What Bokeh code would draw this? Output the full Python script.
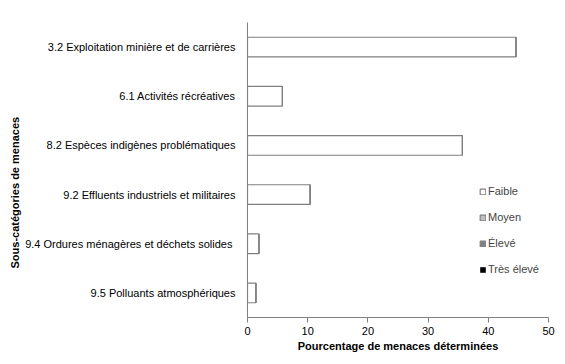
import math
from bokeh.plotting import figure
from bokeh.models import (ColumnDataSource, FactorRange, Range1d, FixedTicker,
                          Legend, LegendItem, Title)
from bokeh.embed import file_html
from bokeh.resources import INLINE

categories = [
    "3.2 Exploitation minière et de carrières",
    "6.1 Activités récréatives",
    "8.2 Espèces indigènes problématiques",
    "9.2 Effluents industriels et militaires",
    "9.4 Ordures ménagères  et déchets solides",
    "9.5 Polluants atmosphériques",
]
faible = [44.6, 5.8, 35.7, 10.4, 1.9, 1.4]
moyen = [0, 0, 0, 0, 0, 0]
eleve = [0, 0, 0, 0, 0, 0]
tres_eleve = [0, 0, 0, 0, 0, 0]
series_names = ["Faible", "Moyen", "Élevé", "Très élevé"]
x_ticks = [0, 10, 20, 30, 40, 50]
x_title = "Pourcentage de menaces déterminées"
y_title = "Sous-catégories de menaces"

FONT = "Liberation Sans"

p = figure(
    y_range=FactorRange(factors=list(reversed(categories))),
    x_range=Range1d(0, 50),
    frame_width=301, frame_height=295,
    min_border_left=247, min_border_right=17,
    min_border_top=22, min_border_bottom=47,
    output_backend="svg", toolbar_location=None,
)
p.outline_line_color = None
p.grid.grid_line_color = None
p.background_fill_color = "white"
p.border_fill_color = "white"

src = ColumnDataSource(dict(cat=categories, faible=faible, moyen=moyen,
                            eleve=eleve, tres=tres_eleve))
cols = ["faible", "moyen", "eleve", "tres"]
fills = ["#ffffff", "#c0c0c0", "#808080", "#000000"]
lines = ["#808080", "#808080", "#808080", None]
renderers = p.hbar_stack(cols, y="cat", height=0.4, source=src,
                         fill_color=fills, line_color=lines, line_width=1.2)

items = [LegendItem(label=n, renderers=[r]) for n, r in zip(series_names, renderers)]
legend = Legend(items=items, location=(232, 42), orientation="vertical",
                glyph_width=7, glyph_height=7, label_standoff=2,
                label_text_font=FONT, label_text_font_size="11px",
                label_height=11, spacing=14, padding=0, margin=0,
                border_line_alpha=0, background_fill_alpha=0)
p.add_layout(legend)

xa = p.xaxis[0]
xa.ticker = FixedTicker(ticks=x_ticks)
xa.axis_line_color = "#808080"
xa.major_tick_line_color = "#808080"
xa.major_tick_out = 5
xa.major_tick_in = 0
xa.minor_tick_line_color = None
xa.major_label_text_font = FONT
xa.major_label_text_font_size = "11px"
xa.major_label_text_color = "#000000"
xa.major_label_standoff = 4
xa.axis_label = x_title
xa.axis_label_text_font = FONT
xa.axis_label_text_font_size = "11px"
xa.axis_label_text_font_style = "bold"
xa.axis_label_text_color = "#000000"
xa.axis_label_standoff = 2

ya = p.yaxis[0]
ya.axis_line_color = "#808080"
ya.major_tick_line_color = None
ya.major_tick_out = 0
ya.major_tick_in = 0
ya.major_label_text_font = FONT
ya.major_label_text_font_size = "11px"
ya.major_label_text_color = "#000000"
ya.major_label_standoff = 12

ytitle = Title(text=y_title, align="left", offset=49, standoff=4,
               text_font=FONT, text_font_size="11px", text_font_style="bold",
               text_color="#000000")
p.add_layout(ytitle, "left")

open("out.html", "w").write(file_html(p, INLINE))
